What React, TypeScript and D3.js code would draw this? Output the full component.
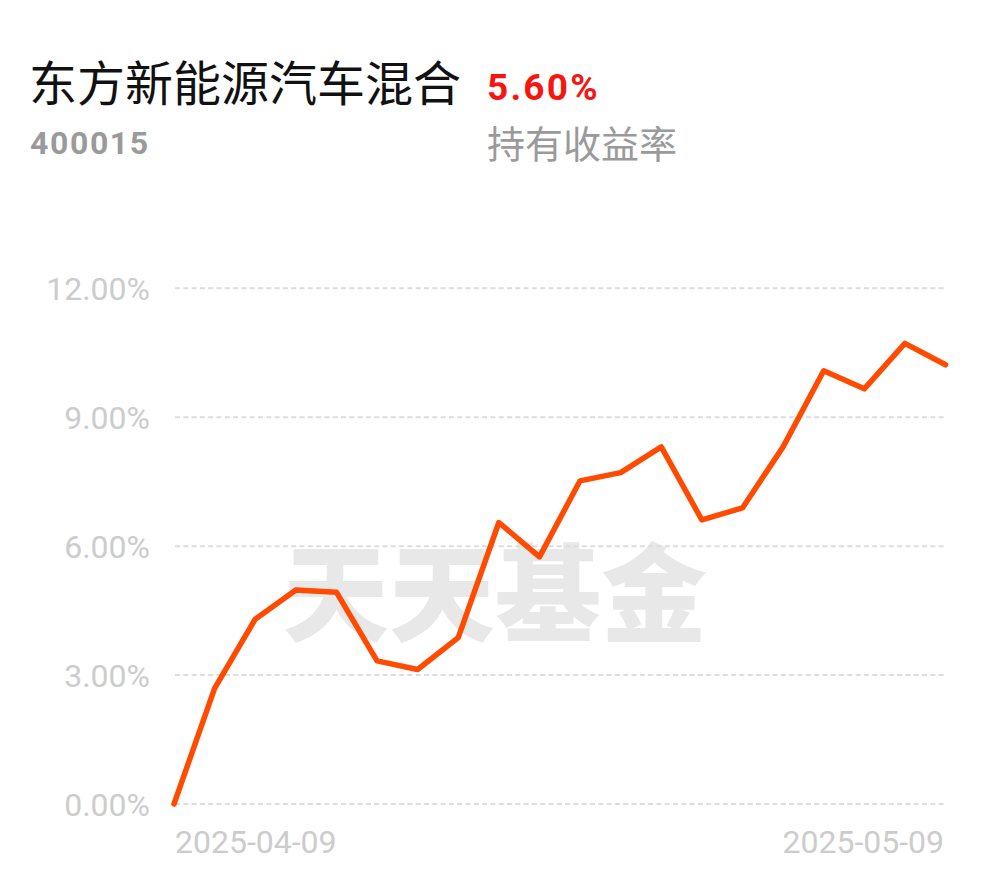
import React from "react";
import * as d3 from "d3";

const dates = [
  "2025-04-09", "2025-04-10", "2025-04-11", "2025-04-14", "2025-04-15",
  "2025-04-16", "2025-04-17", "2025-04-18", "2025-04-21", "2025-04-22",
  "2025-04-23", "2025-04-24", "2025-04-25", "2025-04-28", "2025-04-29",
  "2025-04-30", "2025-05-06", "2025-05-07", "2025-05-08", "2025-05-09",
];
const returns = [
  0, 2.69, 4.3, 4.98, 4.93, 3.33, 3.13, 3.87, 6.55, 5.75,
  7.52, 7.71, 8.31, 6.61, 6.89, 8.31, 10.08, 9.66, 10.72, 10.22,
];
const yTicks = [0, 3, 6, 9, 12];
const xLabels = ["2025-04-09", "2025-05-09"];
const fundName = "东方新能源汽车混合";
const fundCode = "400015";
const holdReturn = "5.60%";
const holdLabel = "持有收益率";
const watermark = "天天基金";

export default function App() {
  const W = 990, H = 878;
  const x = d3.scalePoint<string>().domain(dates).range([174, 945.5]);
  const y = d3.scaleLinear().domain([0, 12]).range([804, 288.3]);
  const line = d3
    .line<number>()
    .x((_, i) => x(dates[i]) as number)
    .y((d) => y(d));
  const fmt = (v: number) => v.toFixed(2) + "%";
  const cjk = "'Noto Sans CJK SC', 'Noto Sans', sans-serif";
  const num = "Roboto, 'Noto Sans', sans-serif";
  return (
    <svg
      width={W}
      height={H}
      style={{ position: "absolute", left: 0, top: 0, background: "#fff" }}
    >
      <rect x={0} y={0} width={W} height={H} fill="#fff" />
      <text x={29} y={101} fontFamily={cjk} fontSize={48} fill="#111">
        {fundName}
      </text>
      <text
        x={487}
        y={100}
        fontFamily={num}
        fontWeight={700}
        fontSize={37}
        letterSpacing={2.2}
        fill="#f5170f"
      >
        {holdReturn}
      </text>
      <text
        x={30}
        y={154}
        fontFamily={num}
        fontWeight={700}
        fontSize={32}
        letterSpacing={1.6}
        fill="#9a9a9a"
      >
        {fundCode}
      </text>
      <text x={487} y={158} fontFamily={cjk} fontSize={38} fill="#9a9a9a">
        {holdLabel}
      </text>

      <text
        x={495}
        y={587}
        textAnchor="middle"
        dominantBaseline="central"
        fontFamily={cjk}
        fontWeight={900}
        fontSize={106}
        fill="#e8e8e8"
      >
        {watermark}
      </text>

      {yTicks.map((t) => (
        <g key={t}>
          <line
            x1={175}
            x2={945}
            y1={y(t)}
            y2={y(t)}
            stroke="#dddddd"
            strokeWidth={2}
            strokeDasharray="5,3.3"
          />
          <text
            x={150}
            y={y(t) + 11.5}
            textAnchor="end"
            fontFamily={num}
            fontSize={32}
            fill="#cccccc"
          >
            {fmt(t)}
          </text>
        </g>
      ))}

      <text x={175} y={853} fontFamily={num} fontSize={32} fill="#cccccc">
        {xLabels[0]}
      </text>
      <text
        x={944}
        y={853}
        textAnchor="end"
        fontFamily={num}
        fontSize={32}
        fill="#cccccc"
      >
        {xLabels[1]}
      </text>

      <path
        d={line(returns) || ""}
        fill="none"
        stroke="#ff4a00"
        strokeWidth={5.5}
        strokeLinejoin="round"
        strokeLinecap="round"
      />
    </svg>
  );
}
